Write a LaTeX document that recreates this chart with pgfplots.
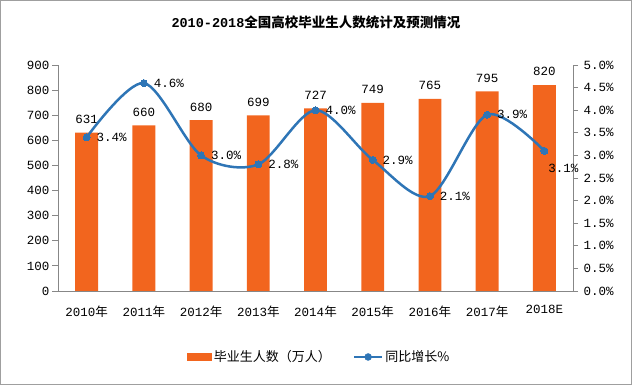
\documentclass[border=0pt]{standalone}
\usepackage{pgfplots}
\pgfplotsset{compat=1.18}
\usepackage{fontspec}
\setmainfont{Liberation Mono}
\newfontfamily\cjk{Noto Sans CJK SC}
\definecolor{barorange}{RGB}{242,101,30}
\definecolor{lineblue}{RGB}{46,117,182}
\definecolor{axgray}{RGB}{135,135,135}
\pgfkeys{/pgf/number format/assume math mode=true}
\begin{document}
\begin{tikzpicture}[x=1pt,y=1pt]
\path (0,0) rectangle (632,385);
\draw[axgray!80, line width=0.8pt] (0.5,0.5) rectangle (631.5,384.5);
\node[font=\fontsize{13.5}{15}\selectfont\bfseries] at (316,363) {2010-2018{\cjk 全国高校毕业生人数统计及预测情况}};
\begin{axis}[
  /pgf/number format/assume math mode=true,
  at={(58pt,94pt)}, anchor=south west, scale only axis,
  width=515pt, height=226pt,
  xmin=-0.5, xmax=8.5, ymin=0, ymax=900,
  ybar, bar width=0.4,
  axis y line*=left, axis x line*=bottom,
  axis line style={draw=axgray, line width=0.8pt},
  ytick={0,100,...,900},
  xtick={0,...,8},
  xticklabels={2010{\cjk 年},2011{\cjk 年},2012{\cjk 年},2013{\cjk 年},2014{\cjk 年},2015{\cjk 年},2016{\cjk 年},2017{\cjk 年},2018E},
  major x tick style={draw=none},
  extra x ticks={-0.5,0.5,...,8.5},
  extra x tick labels={},
  extra x tick style={major tick style={draw=axgray, line width=0.8pt}},
  tick align=outside, major tick length=6pt,
  ytick style={draw=axgray, line width=0.8pt},
  tick label style={font=\fontsize{12.5}{14}\selectfont, text=black},
  xticklabel style={yshift=-5pt},
  yticklabel style={xshift=1pt},
  legend style={at={(0.507,-0.292)}, anchor=center, draw=none, fill=none,
    legend columns=2, font=\fontsize{13}{15}\selectfont,
    /tikz/every even column/.append style={column sep=20pt}},
  legend cell align=left,
]
\addplot[fill=barorange, draw=none,
  legend image code/.code={\fill[barorange] (0pt,-4pt) rectangle (25pt,4pt);},
  nodes near coords={\raisebox{9pt}{\pgfmathprintnumber{\pgfplotspointmeta}}},
  every node near coord/.append style={font=\fontsize{12.5}{14}\selectfont, text=black, anchor=south, inner sep=0pt}]
coordinates {(0,631) (1,660) (2,680) (3,699) (4,727) (5,749) (6,765) (7,795) (8,820)};
\addlegendentry{\cjk 毕业生人数（万人）}
\addlegendimage{legend image code/.code={\draw[lineblue, line width=2.5pt] (0pt,0pt) -- (28pt,0pt); \fill[lineblue] (14pt,0pt) circle (3.5pt);}}
\addlegendentry{\cjk 同比增长\%}
\end{axis}
\begin{axis}[
  /pgf/number format/assume math mode=true,
  at={(58pt,94pt)}, anchor=south west, scale only axis,
  width=515pt, height=226pt,
  xmin=-0.5, xmax=8.5, ymin=0, ymax=5,
  axis y line*=right, axis x line=none,
  axis line style={draw=axgray, line width=0.8pt},
  ytick={0,0.5,...,5},
  yticklabel={\pgfmathprintnumber[fixed,fixed zerofill,precision=1,assume math mode=true]{\tick}\%},
  tick align=outside, major tick length=5pt,
  ytick style={draw=axgray, line width=0.8pt},
  tick label style={font=\fontsize{12.5}{14}\selectfont, text=black},
  yticklabel style={xshift=2pt},
]
\addplot[smooth, line width=2.5pt, color=lineblue, mark=*, mark size=3.5pt,
  mark options={fill=lineblue, draw=lineblue, line width=0pt},
  nodes near coords={\pgfmathprintnumber[fixed,fixed zerofill,precision=1,assume math mode=true]{\pgfplotspointmeta}\%},
  every node near coord/.append style={font=\fontsize{12.5}{14}\selectfont, text=black, anchor=west, inner sep=0pt, xshift=10pt},
  coordinate style/.condition={\coordindex==8}{xshift=-6pt, yshift=-18pt}]
coordinates {(0,3.4) (1,4.6) (2,3.0) (3,2.8) (4,4.0) (5,2.9) (6,2.1) (7,3.9) (8,3.1)};
\end{axis}
\end{tikzpicture}
\end{document}
